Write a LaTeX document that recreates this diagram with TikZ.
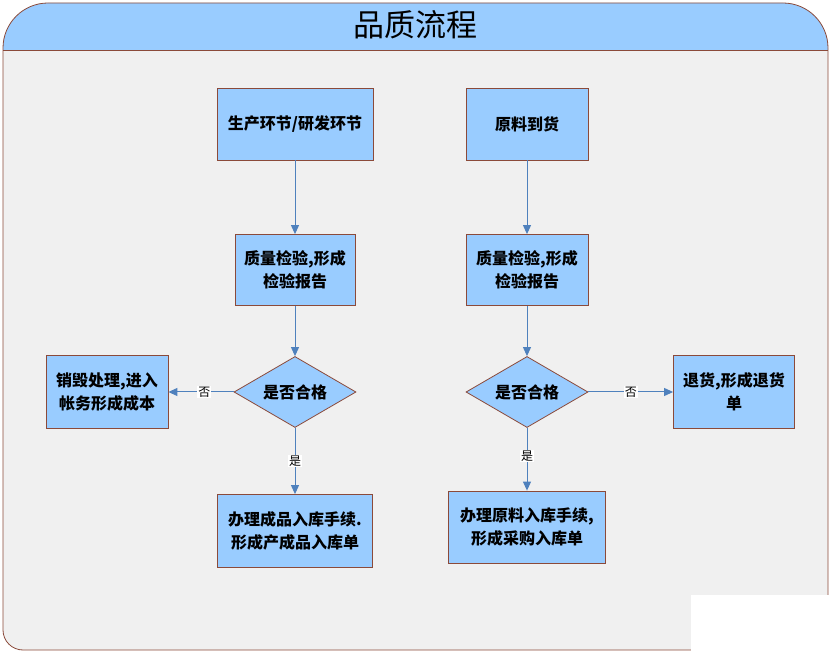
\documentclass[tikz,border=0pt]{standalone}
\usepackage{fontspec}
\newfontfamily\cjk{Noto Sans CJK SC}
\usetikzlibrary{shapes.geometric,arrows.meta}
\definecolor{boxblue}{HTML}{99CCFF}
\definecolor{boxline}{HTML}{8B4A3A}
\definecolor{arrowblue}{HTML}{4F81BD}
\definecolor{panel}{HTML}{F0F0F0}
\begin{document}
\begin{tikzpicture}
    [x=1pt,y=-1pt,
     stepbox/.style={rectangle,draw=boxline,fill=boxblue,line width=0.8pt,
       inner sep=0pt,align=center,font=\cjk\bfseries\fontsize{16}{23.5}\selectfont},
     check/.style={diamond,draw=boxline,fill=boxblue,line width=0.8pt,
       inner sep=0pt,shape aspect=1.7,minimum width=122pt,minimum height=71pt,
       font=\cjk\bfseries\fontsize{16}{23.5}\selectfont},
     flow/.style={draw=arrowblue,line width=1pt,-{Triangle[width=8pt,length=9pt]}},
     answer/.style={fill=white,inner sep=1pt,font=\cjk\fontsize{12}{13}\selectfont}]
    \useasboundingbox (0,0) rectangle (831,655);
    % frame and header
    \begin{scope}
      \clip (828,650) -- (23,650) arc[start angle=90,end angle=180,radius=20] -- (3,48)
        arc[start angle=180,end angle=270,radius=45] -- (783,3)
        arc[start angle=270,end angle=360,radius=45] -- cycle;
      \fill[panel] (0,0) rectangle (831,655);
      \fill[boxblue] (0,0) rectangle (831,50);
    \end{scope}
    \draw[boxline,line width=0.8pt] (828,650) -- (23,650) arc[start angle=90,end angle=180,radius=20] -- (3,48)
        arc[start angle=180,end angle=270,radius=45] -- (783,3)
        arc[start angle=270,end angle=360,radius=45] -- cycle;
    \draw[boxline,line width=0.8pt] (3,50) -- (828,50);
    \node (title) at (415,25) [font=\cjk\fontsize{31}{33}\selectfont] {品质流程};
    % left branch
    \node (produce) at (295,124) [stepbox,minimum width=156pt,minimum height=72pt] {生产环节/研发环节};
    \node (inspectL) at (295,270) [stepbox,minimum width=120pt,minimum height=71pt] {质量检验,形成\\检验报告};
    \node (passL) at (295,392) [check] {是否合格};
    \node (scrap) at (107,392) [stepbox,minimum width=122pt,minimum height=73pt] {销毁处理,进入\\帐务形成成本};
    \node (stockL) at (295,531) [stepbox,minimum width=155pt,minimum height=73pt] {办理成品入库手续.\\形成产成品入库单};
    % right branch
    \node (arrive) at (527,124) [stepbox,minimum width=122pt,minimum height=72pt] {原料到货};
    \node (inspectR) at (527,270) [stepbox,minimum width=122pt,minimum height=71pt] {质量检验,形成\\检验报告};
    \node (passR) at (527,392) [check] {是否合格};
    \node (return) at (734,392) [stepbox,minimum width=121pt,minimum height=73pt] {退货,形成退货\\单};
    \node (stockR) at (527,527) [stepbox,minimum width=157pt,minimum height=72pt] {办理原料入库手续,\\形成采购入库单};
    % connectors
    \draw [flow] (produce) to (inspectL);
    \draw [flow] (inspectL) to (passL);
    \draw [flow] (passL) to node [answer,pos=0.45] {否} (scrap);
    \draw [flow] (passL) to node [answer,pos=0.5] {是} (stockL);
    \draw [flow] (arrive) to (inspectR);
    \draw [flow] (inspectR) to (passR);
    \draw [flow] (passR) to node [answer,pos=0.5] {否} (return);
    \draw [flow] (passR) to node [answer,pos=0.45] {是} (stockR);
    % white patch
    \fill[white] (691,595) rectangle (831,655);
  \end{tikzpicture}
\end{document}
